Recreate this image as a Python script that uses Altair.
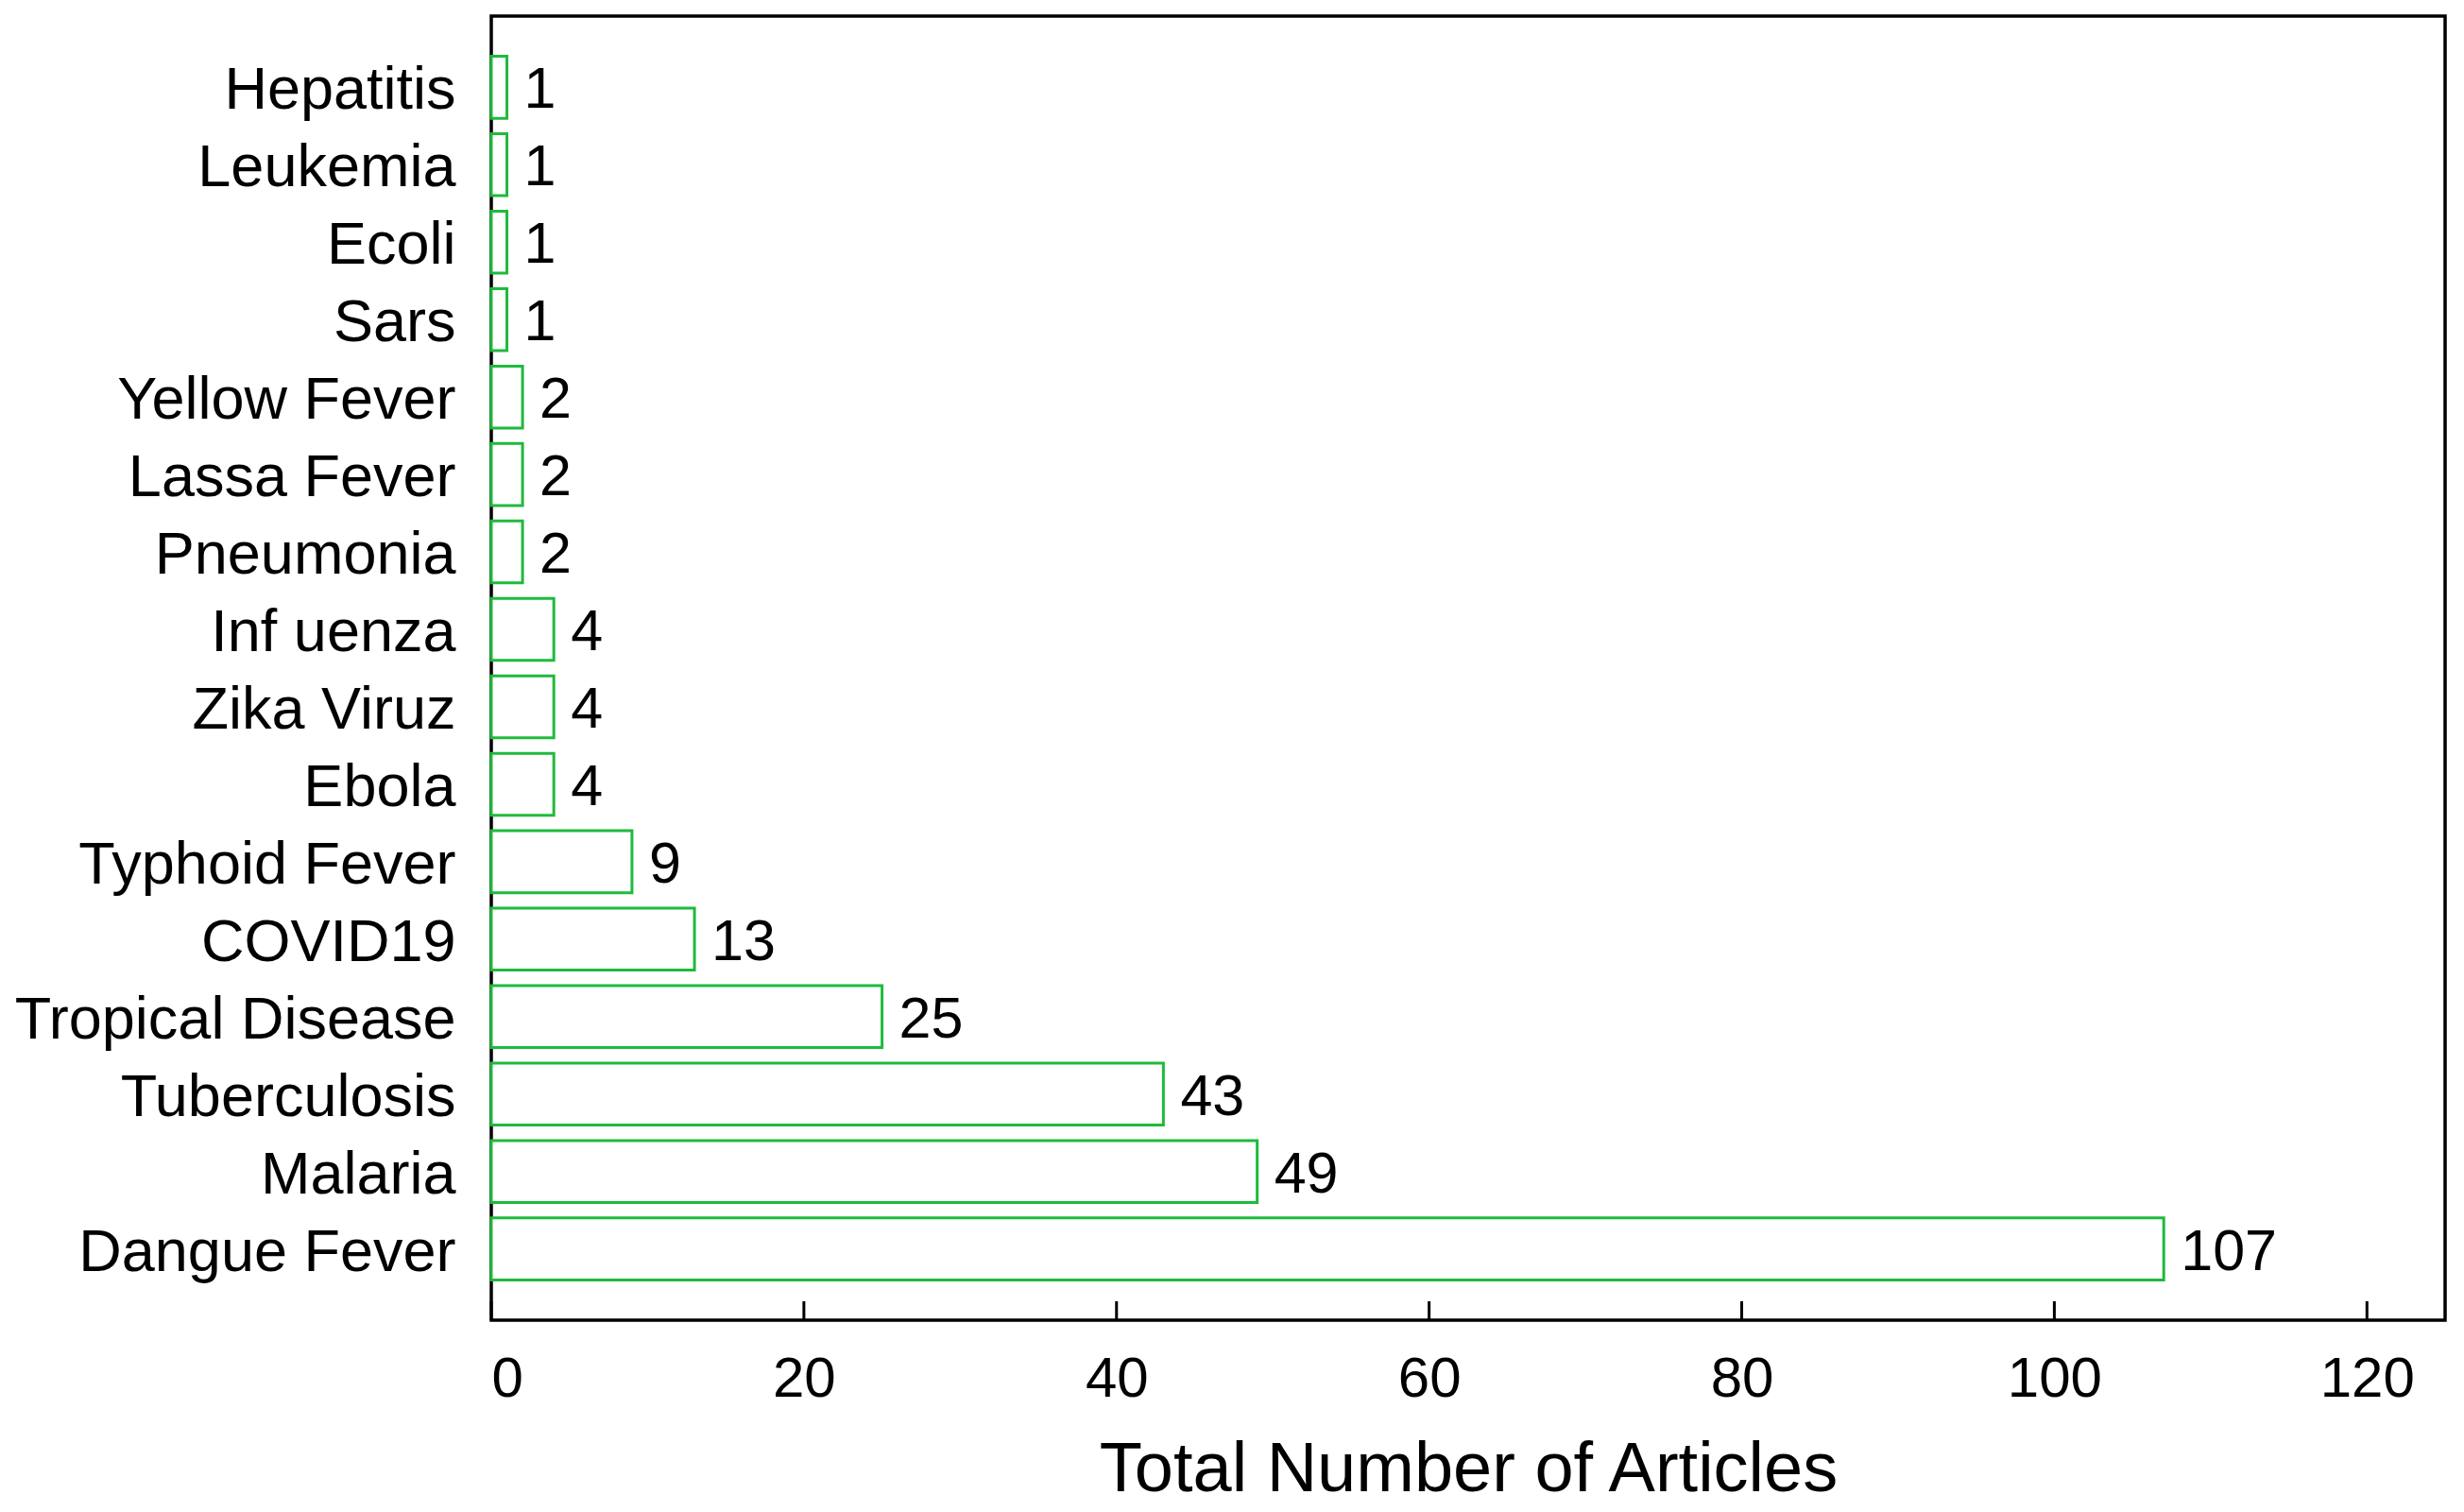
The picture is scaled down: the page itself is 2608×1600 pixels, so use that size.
import altair as alt
import pandas as pd

diseases = ["Hepatitis", "Leukemia", "Ecoli", "Sars", "Yellow Fever", "Lassa Fever",
            "Pneumonia", "Inf uenza", "Zika Viruz", "Ebola", "Typhoid Fever", "COVID19",
            "Tropical Disease", "Tuberculosis", "Malaria", "Dangue Fever"]
articles = [1, 1, 1, 1, 2, 2, 2, 4, 4, 4, 9, 13, 25, 43, 49, 107]
tick_values = [0, 20, 40, 60, 80, 100, 120]

W, H = 2068, 1380
GREEN = "#1fba3c"
FONT = "Liberation Sans"

df = pd.DataFrame({"disease": diseases, "n": articles})
ticks_df = pd.DataFrame({"t": tick_values})

xscale = alt.Scale(domain=[0, 125], nice=False, zero=True)

base = alt.Chart(df)

bars = base.mark_bar(fill="white", stroke=GREEN, strokeWidth=3).encode(
    x=alt.X("n:Q", scale=xscale,
            axis=alt.Axis(title="Total Number of Articles", values=tick_values,
                          ticks=False, domain=False, grid=False,
                          labelFontSize=60, labelFont=FONT, labelColor="black",
                          labelPadding=33, titleFontSize=74, titleFont=FONT,
                          titleFontWeight="normal", titleColor="black",
                          titlePadding=30)),
    y=alt.Y("disease:N", sort=diseases,
            scale=alt.Scale(paddingInner=0.2, paddingOuter=0.52),
            axis=alt.Axis(title=None, ticks=False, domain=False, grid=False,
                          labelFontSize=63, labelFont=FONT, labelColor="black",
                          labelPadding=38, labelLimit=0, labelOffset=4)),
)

labels = base.mark_text(align="left", baseline="middle", dx=18, dy=4, fontSize=61,
                        font=FONT, color="black").encode(
    x=alt.X("n:Q", scale=xscale),
    y=alt.Y("disease:N", sort=diseases),
    text=alt.Text("n:Q"),
)

tick_rules = alt.Chart(ticks_df).mark_rule(color="black", strokeWidth=3).encode(
    x=alt.X("t:Q", scale=xscale),
    y=alt.value(H),
    y2=alt.value(H - 20),
)

chart = alt.layer(bars, labels, tick_rules).properties(
    width=W, height=H,
    autosize=alt.AutoSizeParams(type="none"),
    padding={"left": 512, "top": 9, "right": 12, "bottom": 202},
).configure(
    background="white",
    view=alt.ViewConfig(stroke="black", strokeWidth=3.5),
)

chart.save("out.html", embed_options={"renderer": "svg", "actions": False})
